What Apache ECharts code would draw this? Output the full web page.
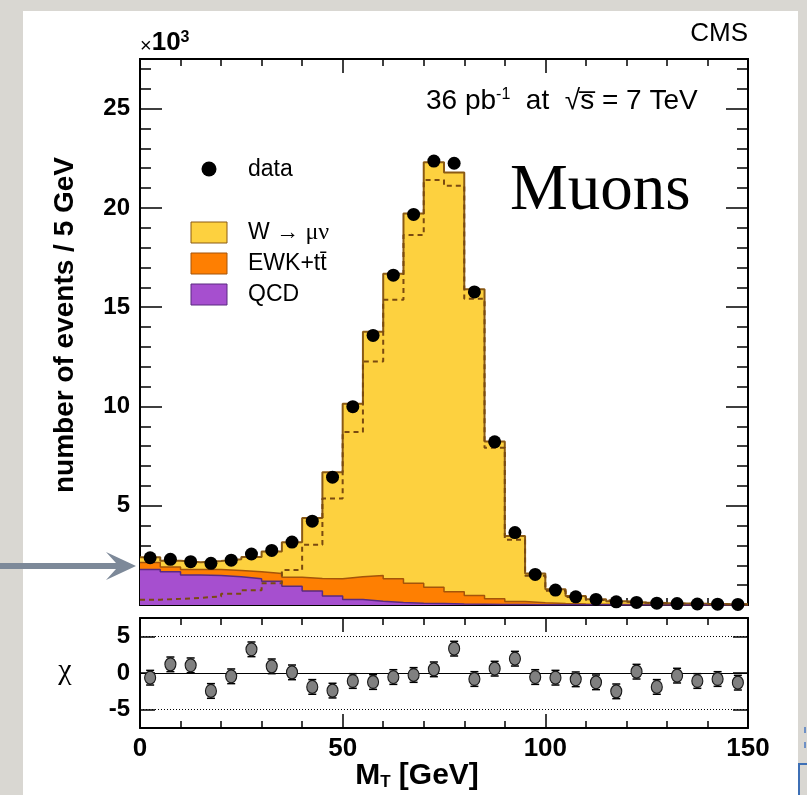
<!DOCTYPE html>
<html>
<head>
<meta charset="utf-8">
<script src="https://cdn.jsdelivr.net/npm/echarts@6/dist/echarts.min.js"></script>
<style>
  html, body { margin: 0; padding: 0; width: 807px; height: 795px; overflow: hidden; background: #d9d7d2; }
  #sheet { position: absolute; left: 23px; top: 11px; width: 775px; height: 800px; background: #ffffff; }
  #chart { position: absolute; left: 0; top: 0; width: 807px; height: 795px; }
</style>
</head>
<body>
<div id="sheet"></div>
<div id="chart"></div>
<script>
// Transverse-mass spectrum, 5 GeV bins from 0 to 150 GeV, counts in units of 10^3.
const BIN_WIDTH = 5;
const X_MIN = 0;
const X_MAX = 150;

const dataK = [2.38, 2.30, 2.18, 2.10, 2.26, 2.57, 2.75, 3.17, 4.22, 6.44,
               9.99, 13.58, 16.61, 19.67, 22.36, 22.25, 15.77, 8.22, 3.65, 1.54,
               0.75, 0.41, 0.28, 0.16, 0.13, 0.09, 0.07, 0.05, 0.04, 0.03];

const wmunuK = [0.27, 0.31, 0.36, 0.43, 0.57, 0.74, 1.10, 1.76, 3.04, 5.36,
                8.71, 12.27, 15.37, 18.63, 21.40, 21.11, 15.42, 7.92, 3.29, 1.47,
                0.72, 0.40, 0.25, 0.16, 0.11, 0.08, 0.065, 0.05, 0.04, 0.03];

const ewkK = [0.35, 0.24, 0.28, 0.30, 0.32, 0.36, 0.40, 0.45, 0.64, 0.87,
              1.14, 1.30, 1.19, 1.00, 0.83, 0.62, 0.44, 0.28, 0.16, 0.10,
              0.06, 0.04, 0.03, 0.02, 0.015, 0.012, 0.01, 0.008, 0.006, 0.005];

const qcdK = [1.79, 1.68, 1.51, 1.49, 1.42, 1.32, 1.19, 0.95, 0.70, 0.45,
              0.28, 0.19, 0.13, 0.09, 0.07, 0.05, 0.04, 0.03, 0.02, 0.015,
              0.01, 0.01, 0.008, 0.006, 0.005, 0.004, 0.003, 0.003, 0.002, 0.002];

const chiValues = [-0.64, 1.18, 1.05, -2.45, -0.45, 3.23, 0.91, 0.09, -1.90, -2.40,
                   -1.09, -1.23, -0.55, -0.27, 0.50, 3.32, -0.82, 0.59, 1.95, -0.55,
                   -0.64, -0.86, -1.27, -2.50, 0.18, -1.90, -0.36, -1.09, -0.82, -1.32];

const xTickLabels = [0, 50, 100, 150];
const yMajorTicks = [5, 10, 15, 20, 25];
const yMinorTicks = [1, 2, 3, 4, 6, 7, 8, 9, 11, 12, 13, 14, 16, 17, 18, 19, 21, 22, 23, 24, 26, 27];
const chiTicks = [-5, 0, 5];

const COLORS = {
  wmunu: '#fdd13f', wmunuEdge: '#8a5a14',
  ewk: '#fe7f02', ewkEdge: '#a4540a',
  qcd: '#a64fcf', qcdEdge: '#5a2a80'
};

const SANS = '"Liberation Sans", Arial, Helvetica, sans-serif';
const SERIF = '"Liberation Serif", "Times New Roman", serif';

const binLow = dataK.map((_, i) => X_MIN + i * BIN_WIDTH);
const binCenter = binLow.map(x => x + BIN_WIDTH / 2);

// cumulative stack heights: QCD at the bottom, then EWK+tt, then W -> mu nu
const stackQcd = qcdK.slice();
const stackEwk = qcdK.map((v, i) => v + ewkK[i]);
const stackTotal = stackEwk.map((v, i) => v + wmunuK[i]);

// histogram outline points: one per bin low edge plus the closing upper edge
function stepPoints(values) {
  const pts = values.map((v, i) => [binLow[i], v]);
  pts.push([binLow[values.length - 1] + BIN_WIDTH, values[values.length - 1]]);
  return pts;
}

const frame = { show: true, onZero: false, lineStyle: { color: '#000', width: 2 } };

function xAxisDef(grid, position, labels) {
  return {
    type: 'value', gridIndex: grid, position: position, min: X_MIN, max: X_MAX, interval: 50,
    axisLine: frame,
    axisTick: { show: true, inside: true, length: 14, lineStyle: { color: '#000', width: 1.5 } },
    minorTick: { show: true, splitNumber: 5, length: 7, lineStyle: { color: '#000', width: 1.5 } },
    axisLabel: labels ? {
      show: true, margin: 8, color: '#000', fontFamily: SANS, fontWeight: 'bold', fontSize: 26,
      customValues: xTickLabels
    } : { show: false },
    splitLine: { show: false }
  };
}

function yAxisDef(grid, position, min, max, ticks, len, labels) {
  return {
    type: 'value', gridIndex: grid, position: position, min: min, max: max,
    axisLine: frame,
    axisTick: { show: true, inside: true, length: len, customValues: ticks, lineStyle: { color: '#000', width: 1.5 } },
    axisLabel: labels ? {
      show: true, margin: 10, color: '#000', fontFamily: SANS, fontWeight: 'bold', fontSize: 24,
      customValues: labels
    } : { show: false },
    splitLine: { show: false }
  };
}

function stackLayer(name, values, fill, edge, width) {
  return {
    name: name, type: 'line', xAxisIndex: 0, yAxisIndex: 0, step: 'end',
    symbol: 'none', data: stepPoints(values), z: 2,
    lineStyle: { color: edge, width: width },
    areaStyle: { color: fill, opacity: 1 }
  };
}

const chart = echarts.init(document.getElementById('chart'), null, { renderer: 'canvas' });

const option = {
  backgroundColor: 'transparent',
  animation: false,
  grid: [
    { left: 140, top: 59, width: 608, height: 546 },
    { left: 140, top: 618, width: 608, height: 110 }
  ],
  xAxis: [
    xAxisDef(0, 'bottom', false),
    xAxisDef(0, 'top', false),
    xAxisDef(1, 'bottom', true),
    xAxisDef(1, 'top', false)
  ],
  yAxis: [
    yAxisDef(0, 'left', 0, 27.5, yMinorTicks, 11, yMajorTicks),
    yAxisDef(0, 'right', 0, 27.5, yMinorTicks, 11, null),
    yAxisDef(0, 'left', 0, 27.5, yMajorTicks, 22, null),
    yAxisDef(0, 'right', 0, 27.5, yMajorTicks, 22, null),
    yAxisDef(1, 'left', -7.5, 7.5, chiTicks, 15, chiTicks),
    yAxisDef(1, 'right', -7.5, 7.5, chiTicks, 15, null)
  ],
  series: [
    stackLayer('W → μν', stackTotal, COLORS.wmunu, COLORS.wmunuEdge, 2),
    stackLayer('EWK+tt', stackEwk, COLORS.ewk, COLORS.ewkEdge, 1.5),
    stackLayer('QCD', stackQcd, COLORS.qcd, COLORS.qcdEdge, 1.5),
    {
      name: 'W alone', type: 'line', xAxisIndex: 0, yAxisIndex: 0, step: 'end',
      symbol: 'none', data: stepPoints(wmunuK), z: 3,
      lineStyle: { color: '#7a4a10', width: 2, type: [5, 4] }
    },
    {
      name: 'data', type: 'scatter', xAxisIndex: 0, yAxisIndex: 0, z: 5,
      symbol: 'circle', symbolSize: 13,
      itemStyle: { color: '#000', opacity: 1 },
      data: binCenter.map((x, i) => [x, dataK[i]])
    },
    {
      name: 'chi errors', type: 'custom', xAxisIndex: 2, yAxisIndex: 4, z: 4,
      data: binCenter.map((x, i) => [x, chiValues[i] - 1, chiValues[i] + 1]),
      renderItem: function (params, api) {
        const lo = api.coord([api.value(0), api.value(1)]);
        const hi = api.coord([api.value(0), api.value(2)]);
        const cap = 4;
        const st = { stroke: '#000', lineWidth: 1.5 };
        return {
          type: 'group',
          children: [
            { type: 'line', shape: { x1: lo[0], y1: lo[1], x2: hi[0], y2: hi[1] }, style: st },
            { type: 'line', shape: { x1: lo[0] - cap, y1: lo[1], x2: lo[0] + cap, y2: lo[1] }, style: st },
            { type: 'line', shape: { x1: hi[0] - cap, y1: hi[1], x2: hi[0] + cap, y2: hi[1] }, style: st }
          ]
        };
      }
    },
    {
      name: 'chi', type: 'scatter', xAxisIndex: 2, yAxisIndex: 4, z: 5,
      symbol: 'circle', symbolSize: [11, 13],
      itemStyle: { color: '#808080', borderColor: '#1a1a1a', borderWidth: 1.2, opacity: 1 },
      data: binCenter.map((x, i) => [x, chiValues[i]]),
      markLine: {
        silent: true, symbol: 'none', label: { show: false },
        data: [
          { yAxis: 5, lineStyle: { color: '#000', width: 1, type: [1, 2] } },
          { yAxis: -5, lineStyle: { color: '#000', width: 1, type: [1, 2] } },
          { yAxis: 0, lineStyle: { color: '#000', width: 1.2, type: 'solid' } }
        ]
      }
    }
  ],
  graphic: [
    // pointer arrow entering from the left margin
    {
      type: 'polygon', z: 10,
      shape: { points: [[0, 563], [116, 563], [106, 552], [136, 566], [106, 580], [116, 569], [0, 569]] },
      style: { fill: '#7d8999' }
    },
    // fragments of the neighbouring element at the right margin
    { type: 'line', z: 10, shape: { x1: 805, y1: 727, x2: 805, y2: 733 }, style: { stroke: '#4a78c0', lineWidth: 1.5 } },
    { type: 'line', z: 10, shape: { x1: 805, y1: 742, x2: 805, y2: 748 }, style: { stroke: '#4a78c0', lineWidth: 1.5 } },
    { type: 'rect', z: 10, shape: { x: 799, y: 764, width: 30, height: 60 }, style: { fill: 'none', stroke: '#3d6fb5', lineWidth: 2 } },

    { type: 'text', x: 748, y: 34, z: 10,
      style: { text: 'CMS', font: '26px ' + SANS, fill: '#000', textAlign: 'right', textVerticalAlign: 'middle' } },
    { type: 'text', x: 140, y: 43, z: 10,
      style: {
        text: '{t|×}{b|10}{s|3}', textAlign: 'left', textVerticalAlign: 'middle',
        rich: {
          t: { font: '20px ' + SANS, fill: '#000', verticalAlign: 'bottom' },
          b: { font: 'bold 26px ' + SANS, fill: '#000', verticalAlign: 'bottom' },
          s: { font: 'bold 16px ' + SANS, fill: '#000', verticalAlign: 'top' }
        }
      } },
    { type: 'text', x: 426, y: 101, z: 10,
      style: {
        text: '{a|36 pb}{s|-1}{a|  at  √s\u0305 = 7 TeV}', textAlign: 'left', textVerticalAlign: 'middle',
        rich: {
          a: { font: '28px ' + SANS, fill: '#000', verticalAlign: 'bottom' },
          s: { font: '16px ' + SANS, fill: '#000', verticalAlign: 'top' }
        }
      } },
    { type: 'text', x: 510, y: 192, z: 10,
      style: { text: 'Muons', font: '65px ' + SERIF, fill: '#000', textAlign: 'left', textVerticalAlign: 'middle' } },

    // legend
    { type: 'circle', z: 10, shape: { cx: 209, cy: 169, r: 7.5 }, style: { fill: '#000' } },
    { type: 'text', x: 248, y: 170, z: 10,
      style: { text: 'data', font: '23px ' + SANS, fill: '#000', textVerticalAlign: 'middle' } },
    { type: 'rect', z: 10, shape: { x: 191, y: 222, width: 36, height: 21 },
      style: { fill: COLORS.wmunu, stroke: COLORS.wmunuEdge, lineWidth: 1 } },
    { type: 'text', x: 248, y: 233, z: 10,
      style: {
        text: '{a|W → }{g|μν}', textVerticalAlign: 'middle',
        rich: { a: { font: '23px ' + SANS, fill: '#000' }, g: { font: '24px ' + SERIF, fill: '#000' } }
      } },
    { type: 'rect', z: 10, shape: { x: 191, y: 253, width: 36, height: 21 },
      style: { fill: COLORS.ewk, stroke: COLORS.ewkEdge, lineWidth: 1 } },
    { type: 'text', x: 248, y: 264, z: 10,
      style: { text: 'EWK+tt\u0304', font: '23px ' + SANS, fill: '#000', textVerticalAlign: 'middle' } },
    { type: 'rect', z: 10, shape: { x: 191, y: 284, width: 36, height: 21 },
      style: { fill: COLORS.qcd, stroke: COLORS.qcdEdge, lineWidth: 1 } },
    { type: 'text', x: 248, y: 295, z: 10,
      style: { text: 'QCD', font: '23px ' + SANS, fill: '#000', textVerticalAlign: 'middle' } },

    // axis titles
    { type: 'text', x: 65, y: 325, rotation: Math.PI / 2, z: 10,
      style: { text: 'number of events / 5 GeV', font: 'bold 28px ' + SANS, fill: '#000', textAlign: 'center', textVerticalAlign: 'middle' } },
    { type: 'text', x: 65, y: 671, z: 10,
      style: { text: 'χ', font: '30px ' + SERIF, fill: '#000', textAlign: 'center', textVerticalAlign: 'middle' } },
    { type: 'text', x: 417, y: 776, z: 10,
      style: {
        text: '{b|M}{s|T}{b| [GeV]}', textAlign: 'center', textVerticalAlign: 'middle',
        rich: {
          b: { font: 'bold 30px ' + SANS, fill: '#000', verticalAlign: 'top' },
          s: { font: 'bold 17px ' + SANS, fill: '#000', verticalAlign: 'bottom' }
        }
      } }
  ]
};

chart.setOption(option);
</script>
</body>
</html>
